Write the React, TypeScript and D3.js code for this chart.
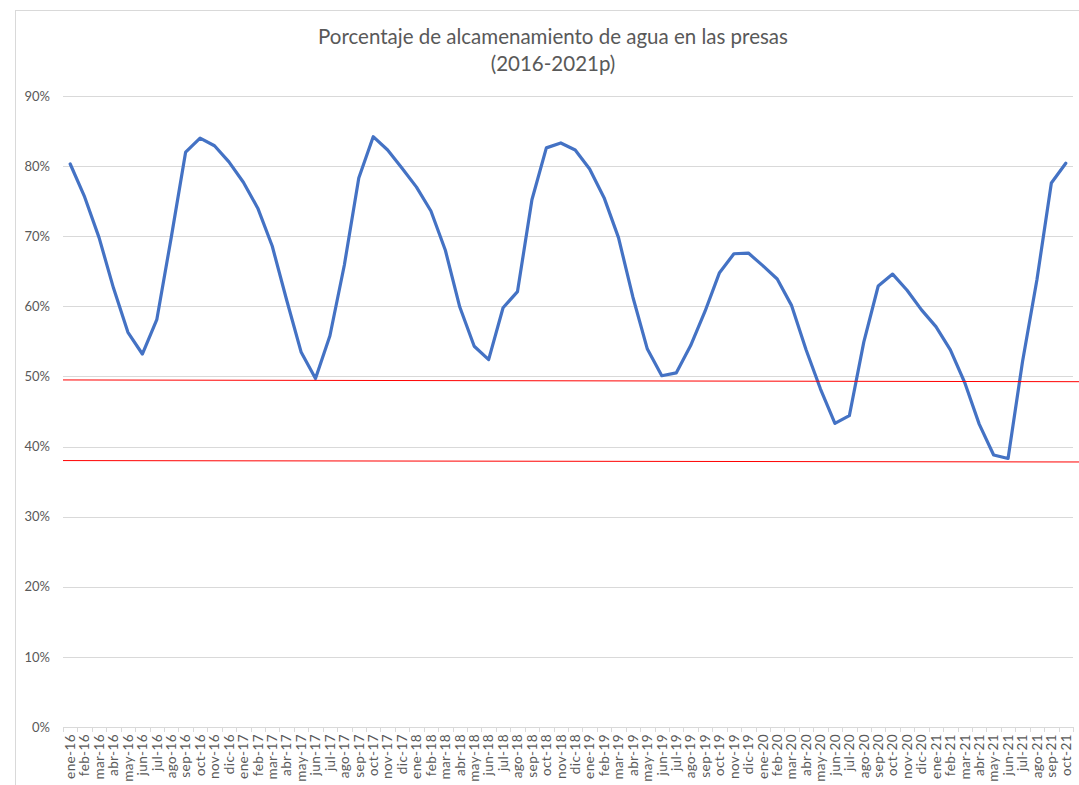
import React, { useEffect, useRef } from 'react';
import * as d3 from 'd3';

// meses (ene-16 .. oct-21)
const monthNames = ['ene', 'feb', 'mar', 'abr', 'may', 'jun', 'jul', 'ago', 'sep', 'oct', 'nov', 'dic'];
const years = ['16', '17', '18', '19', '20', '21'];
const categories: string[] = [];
years.forEach((y) => monthNames.forEach((m) => categories.push(`${m}-${y}`)));
categories.splice(70); // la serie termina en oct-21

// porcentaje de almacenamiento (%)
const storage = [
  80.3, 75.6, 69.8, 62.6, 56.3, 53.2, 58.1, 69.8, 82.0, 84.0, 82.9, 80.6,
  77.7, 74.0, 68.6, 60.9, 53.5, 49.7, 55.8, 65.9, 78.3, 84.2, 82.3, 79.7,
  77.0, 73.6, 68.0, 59.9, 54.3, 52.4, 59.8, 62.1, 75.2, 82.6, 83.3, 82.3,
  79.6, 75.5, 69.8, 61.3, 53.9, 50.1, 50.5, 54.4, 59.3, 64.8, 67.5, 67.6,
  65.8, 63.9, 60.1, 53.8, 48.2, 43.3, 44.4, 54.9, 62.9, 64.6, 62.3, 59.5,
  57.1, 53.8, 49.1, 43.2, 38.8, 38.3, 52.1, 63.8, 77.6, 80.4,
];

const yTicks = [0, 10, 20, 30, 40, 50, 60, 70, 80, 90];

// líneas rojas de referencia (valor al inicio y al final)
const refStart = [49.5, 38.0];
const refEnd = [49.25, 37.8];

const W = 1079;
const H = 785;

const App = () => {
  const ref = useRef<SVGSVGElement>(null);

  useEffect(() => {
    const svg = d3.select(ref.current);
    svg.selectAll('*').remove();

    const margin = { top: 96, right: 6, bottom: 58, left: 63 };
    const plotW = W - margin.left - margin.right;
    const plotH = H - margin.top - margin.bottom;

    const x = d3.scaleBand().domain(categories).range([0, plotW]).padding(0);
    const y = d3.scaleLinear().domain([0, 90]).range([plotH, 0]);

    svg.append('rect').attr('width', W).attr('height', H).attr('fill', '#fff');
    // borde del gráfico
    svg
      .append('rect')
      .attr('x', 15.5)
      .attr('y', 10.5)
      .attr('width', W)
      .attr('height', H)
      .attr('fill', 'none')
      .attr('stroke', '#d9d9d9');

    const title = svg
      .append('text')
      .attr('fill', '#595959')
      .style('font-family', 'Lato, sans-serif')
      .style('font-size', '20.5px')
      .attr('text-anchor', 'middle');
    title.append('tspan').attr('x', 553).attr('y', 44).text('Porcentaje de alcamenamiento de agua en las presas');
    title.append('tspan').attr('x', 553).attr('y', 71).text('(2016-2021p)');

    const g = svg.append('g').attr('transform', `translate(${margin.left},${margin.top})`);

    // líneas de cuadrícula
    g.selectAll('.grid')
      .data(yTicks.filter((t) => t > 0))
      .enter()
      .append('line')
      .attr('x1', 0)
      .attr('x2', plotW)
      .attr('y1', (d) => Math.round(y(d)) + 0.5)
      .attr('y2', (d) => Math.round(y(d)) + 0.5)
      .attr('stroke', '#d9d9d9')
      .attr('stroke-width', 1);

    // eje Y
    const yAxis = g
      .append('g')
      .call(
        d3
          .axisLeft(y)
          .tickValues(yTicks)
          .tickSize(0)
          .tickPadding(13)
          .tickFormat((d) => `${d}%`)
      );
    yAxis.select('.domain').remove();
    yAxis
      .selectAll('text')
      .attr('fill', '#595959')
      .style('font-family', 'Lato, sans-serif')
      .style('font-size', '13px');

    // eje X
    const xAxis = g
      .append('g')
      .attr('transform', `translate(0,${plotH})`)
      .call(d3.axisBottom(x).tickSize(0));
    xAxis.select('.domain').attr('stroke', '#d9d9d9');
    xAxis
      .selectAll('.tick text')
      .attr('fill', '#595959')
      .style('font-family', 'Lato, sans-serif')
      .style('font-size', '13.5px')
      .style('letter-spacing', '0.4px')
      .attr('text-anchor', 'end')
      .attr('transform', 'rotate(-90)')
      .attr('x', -7)
      .attr('y', 0)
      .attr('dy', '0.35em');

    // marcas entre categorías
    g.append('g')
      .selectAll('line')
      .data(categories.concat(['__end']))
      .enter()
      .append('line')
      .attr('x1', (d, i) => Math.round(i * x.step()) + 0.5)
      .attr('x2', (d, i) => Math.round(i * x.step()) + 0.5)
      .attr('y1', plotH)
      .attr('y2', plotH + 5)
      .attr('stroke', '#d9d9d9');

    // serie
    const line = d3
      .line<number>()
      .x((d, i) => (x(categories[i]) ?? 0) + x.bandwidth() / 2)
      .y((d) => y(d));
    g.append('path')
      .datum(storage)
      .attr('d', line)
      .attr('fill', 'none')
      .attr('stroke', '#4472c4')
      .attr('stroke-width', 3.2)
      .attr('stroke-linejoin', 'round')
      .attr('stroke-linecap', 'round');

    // líneas rojas
    g.selectAll('.ref')
      .data(refStart)
      .enter()
      .append('line')
      .attr('x1', 0)
      .attr('x2', W - margin.left)
      .attr('y1', (d) => y(d))
      .attr('y2', (d, i) => y(refEnd[i]))
      .attr('stroke', '#ff0000')
      .attr('stroke-width', 1);
  }, []);

  return (
    <svg
      ref={ref}
      width={W}
      height={H}
      style={{ position: 'absolute', left: 0, top: 0, display: 'block' }}
    />
  );
};

export default App;
